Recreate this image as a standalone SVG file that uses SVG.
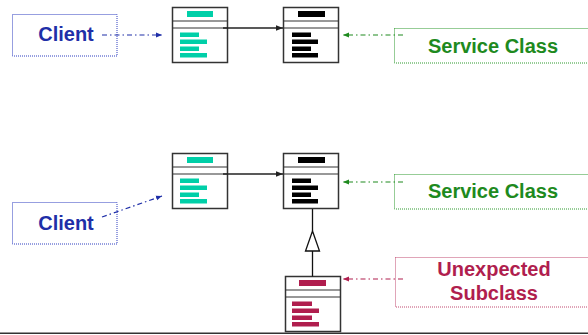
<svg xmlns="http://www.w3.org/2000/svg" width="588" height="335" viewBox="0 0 588 335">
<defs>
<marker id="ah-black" viewBox="0 0 10 10" refX="10" refY="5" markerWidth="7" markerHeight="7" markerUnits="userSpaceOnUse" orient="auto"><path d="M0,1 L10,5 L0,9 Z" fill="#222"/></marker>
<marker id="ah-blue" viewBox="0 0 10 10" refX="10" refY="5" markerWidth="6" markerHeight="6" markerUnits="userSpaceOnUse" orient="auto"><path d="M0,1 L10,5 L0,9 Z" fill="#1F2FA8"/></marker>
<marker id="ah-green" viewBox="0 0 10 10" refX="10" refY="5" markerWidth="6" markerHeight="6" markerUnits="userSpaceOnUse" orient="auto"><path d="M0,1 L10,5 L0,9 Z" fill="#1E8A1E"/></marker>
<marker id="ah-red" viewBox="0 0 10 10" refX="10" refY="5" markerWidth="6" markerHeight="6" markerUnits="userSpaceOnUse" orient="auto"><path d="M0,1 L10,5 L0,9 Z" fill="#B01E4E"/></marker>
</defs>
<style>
.cls{fill:#fff;stroke:#333;stroke-width:1.5}
.div{stroke:#333;stroke-width:1.2}
.lbl{font-family:"Liberation Sans",Arial,sans-serif;font-weight:bold;font-size:20px;text-anchor:middle}
.note{fill:none;stroke-width:1;stroke-dasharray:1 1}
.dd{fill:none;stroke-width:1.2;stroke-dasharray:5 3 1.5 3}
.teal{fill:#00CFA8}
.blk{fill:#000}
.red{fill:#B01E4E}
</style>
<g id="client1">
<rect class="note" x="12.5" y="14.5" width="104.5" height="41.5" stroke="#2F3FC0"/>
<text class="lbl" x="66" y="41" fill="#1F2FA8">Client</text>
</g>
<g id="client2">
<rect class="note" x="12.5" y="202.5" width="104.5" height="41.5" stroke="#2F3FC0"/>
<text class="lbl" x="66" y="230" fill="#1F2FA8">Client</text>
</g>
<g id="service1">
<rect class="note" x="394.5" y="28.5" width="196" height="34.5" stroke="#2E9A2E"/>
<text class="lbl" x="493" y="53" fill="#1E8A1E">Service Class</text>
</g>
<g id="service2">
<rect class="note" x="394.5" y="174.5" width="196" height="34.5" stroke="#2E9A2E"/>
<text class="lbl" x="493" y="198" fill="#1E8A1E">Service Class</text>
</g>
<g id="unexpected">
<rect class="note" x="395.5" y="257.5" width="196" height="49.5" stroke="#C04A70"/>
<text class="lbl" x="494" y="276" fill="#B01E4E">Unexpected</text>
<text class="lbl" x="494" y="300" fill="#B01E4E">Subclass</text>
</g>
<g id="classA1">
<rect class="cls" x="172.5" y="7.5" width="55" height="55"/>
<line class="div" x1="172.5" y1="21" x2="227.5" y2="21"/>
<line class="div" x1="172.5" y1="28" x2="227.5" y2="28"/>
<rect class="teal" x="187" y="11" width="26" height="6"/>
<rect class="teal" x="180" y="32.5" width="19" height="4.5"/>
<rect class="teal" x="180" y="39.5" width="27" height="4.5"/>
<rect class="teal" x="180" y="46.5" width="19" height="4.5"/>
<rect class="teal" x="180" y="53" width="27" height="4.5"/>
</g>
<g id="classB1">
<rect class="cls" x="283.5" y="7.5" width="55" height="55"/>
<line class="div" x1="283.5" y1="21" x2="338.5" y2="21"/>
<line class="div" x1="283.5" y1="28" x2="338.5" y2="28"/>
<rect class="blk" x="298" y="11" width="27" height="6"/>
<rect class="blk" x="292" y="32.5" width="19" height="4.5"/>
<rect class="blk" x="292" y="39.5" width="26" height="4.5"/>
<rect class="blk" x="292" y="46.5" width="19" height="4.5"/>
<rect class="blk" x="292" y="53" width="26" height="4.5"/>
</g>
<g id="classA2">
<rect class="cls" x="172.5" y="153.5" width="55" height="55"/>
<line class="div" x1="172.5" y1="167" x2="227.5" y2="167"/>
<line class="div" x1="172.5" y1="174" x2="227.5" y2="174"/>
<rect class="teal" x="187" y="157" width="26" height="6"/>
<rect class="teal" x="180" y="178.5" width="19" height="4.5"/>
<rect class="teal" x="180" y="185.5" width="27" height="4.5"/>
<rect class="teal" x="180" y="192.5" width="19" height="4.5"/>
<rect class="teal" x="180" y="199" width="27" height="4.5"/>
</g>
<g id="classB2">
<rect class="cls" x="283.5" y="153.5" width="55" height="55"/>
<line class="div" x1="283.5" y1="167" x2="338.5" y2="167"/>
<line class="div" x1="283.5" y1="174" x2="338.5" y2="174"/>
<rect class="blk" x="298" y="157" width="27" height="6"/>
<rect class="blk" x="292" y="178.5" width="19" height="4.5"/>
<rect class="blk" x="292" y="185.5" width="26" height="4.5"/>
<rect class="blk" x="292" y="192.5" width="19" height="4.5"/>
<rect class="blk" x="292" y="199" width="26" height="4.5"/>
</g>
<g id="subclass">
<rect class="cls" x="285.5" y="276.5" width="55" height="55"/>
<line class="div" x1="285.5" y1="290" x2="340.5" y2="290"/>
<line class="div" x1="285.5" y1="297" x2="340.5" y2="297"/>
<rect class="red" x="299" y="280" width="27" height="6"/>
<rect class="red" x="292" y="301.5" width="20" height="4.5"/>
<rect class="red" x="292" y="308.5" width="27" height="4.5"/>
<rect class="red" x="292" y="315.5" width="20" height="4.5"/>
<rect class="red" x="292" y="322" width="27" height="4.5"/>
</g>
<g id="connectors">
<line x1="223" y1="28" x2="283" y2="28" stroke="#222" stroke-width="1.3" marker-end="url(#ah-black)"/>
<line x1="223" y1="174" x2="283" y2="174" stroke="#222" stroke-width="1.3" marker-end="url(#ah-black)"/>
<line class="dd" x1="102" y1="35" x2="162" y2="35" stroke="#1F2FA8" marker-end="url(#ah-blue)"/>
<line class="dd" x1="102" y1="217" x2="162" y2="196" stroke="#1F2FA8" marker-end="url(#ah-blue)"/>
<line class="dd" x1="403" y1="35" x2="343" y2="35" stroke="#1E8A1E" marker-end="url(#ah-green)"/>
<line class="dd" x1="403" y1="182" x2="343" y2="182" stroke="#1E8A1E" marker-end="url(#ah-green)"/>
<line class="dd" x1="403" y1="279" x2="343" y2="279" stroke="#B01E4E" marker-end="url(#ah-red)"/>
<line x1="312.5" y1="209" x2="312.5" y2="231" stroke="#111" stroke-width="1.3"/>
<path d="M312.5,231 L319.5,251 L305.5,251 Z" fill="#fff" stroke="#111" stroke-width="1.3"/>
<line x1="312.5" y1="251" x2="312.5" y2="276.5" stroke="#111" stroke-width="1.3"/>
</g>
<line x1="0" y1="333.3" x2="588" y2="333.3" stroke="#333" stroke-width="1.6"/>
</svg>
